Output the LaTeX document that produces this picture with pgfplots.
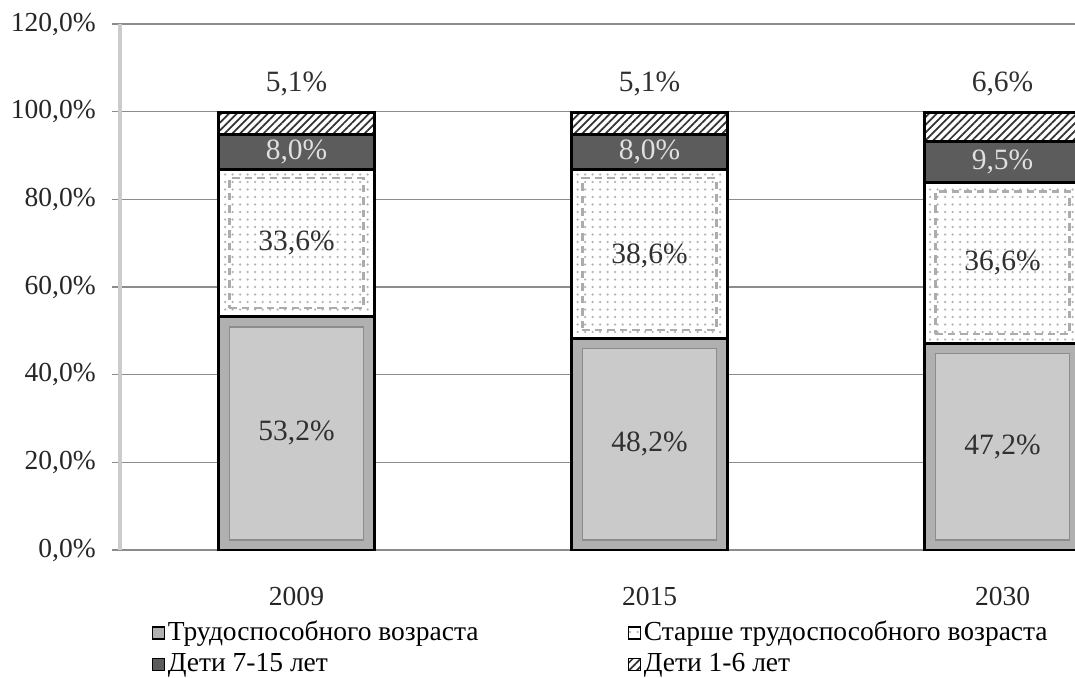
\documentclass[border=0pt]{standalone}
\usepackage{fontspec}
\setmainfont{Liberation Serif}
\usepackage{pgfplots}
\usepackage{pgfplotstable}
\pgfplotsset{compat=1.18}
\usetikzlibrary{patterns,patterns.meta}

\definecolor{barlight}{HTML}{CACACA}
\definecolor{barband}{HTML}{B0B0B0}
\definecolor{bardark}{HTML}{5C5C5C}
\definecolor{gridgray}{HTML}{8C8C8C}
\definecolor{labeltext}{HTML}{303030}

% shares, %
\pgfplotstableread{
x y
0 53.2
1 48.2
2 47.2
}\working
\pgfplotstableread{
x y
0 33.6
1 38.6
2 36.6
}\older
\pgfplotstableread{
x y
0 8.0
1 8.0
2 9.5
}\kidsold
\pgfplotstableread{
x y
0 5.1
1 5.1
2 6.6
}\kidsyoung

% inner frames of the bevelled bars: gap, inner light, gap, dashed frame
\pgfplotstableread{
x g1 inner g2 frame
0 2.3 48.6 4.3 29.6
1 2.3 43.6 4.3 34.6
2 2.3 42.6 4.3 32.6
}\bevel

% label positions (middle of each segment; top share above the bar)
\pgfplotstableread{
x p v
0 26.6 53.2
1 24.1 48.2
2 23.6 47.2
0 70.0 33.6
1 67.1 38.6
2 65.5 36.6
0 106.3 5.1
1 106.3 5.1
2 106.3 6.6
}\darklabels
\pgfplotstableread{
x p v
0 90.8 8.0
1 90.8 8.0
2 88.6 9.5
}\whitelabels

\pgfplotsset{
  boxlegend/.style={
    legend image code/.code={
      \draw[##1, line width=0.6pt, draw=black] (0pt,-2.4pt) rectangle (4.8pt,2.4pt);}
  },
  same frame/.style={
    at={(0,0)}, anchor=south west,
    scale only axis, width=423.6pt, height=210.4pt,
    xmin=-0.5, xmax=2.5, ymin=0, ymax=120,
  },
}
\newcommand{\lbl}{\fontsize{11}{13}\selectfont}
\newcommand{\vlbl}{\fontsize{11.8}{13}\selectfont}

\begin{document}
\begin{tikzpicture}
\begin{axis}[
  same frame,
  ybar stacked, bar width=0.44,
  axis x line*=bottom, axis y line*=left,
  axis line style={-},
  x axis line style={draw=gridgray, line width=0.7pt},
  y axis line style={draw=black!20, line width=1.4pt},
  xtick={0,1,2}, xticklabels={2009,2015,2030},
  xtick style={draw=none},
  extra x ticks={0.5,1.5}, extra x tick labels={},
  extra x tick style={grid=none, major tick length=3.4pt,
    tick style={draw=black!30, line width=0.8pt}},
  ytick={0,20,...,120},
  ytick style={draw=gridgray, line width=0.6pt},
  tick align=outside, major tick length=3.2pt,
  ymajorgrids, grid style={draw=gridgray, line width=0.6pt},
  /pgf/number format/assume math mode=true,
  yticklabel={\pgfmathprintnumber[fixed,fixed zerofill,precision=1,use comma]{\tick}\%},
  tick label style={font=\lbl, text=black!85},
  yticklabel style={xshift=-3pt},
  xticklabel style={yshift=-8pt},
  legend columns=2, legend cell align=left,
  legend style={draw=none, fill=none, at={(0.0225,-0.12)}, anchor=north west,
    font=\lbl, row sep=1.6pt, nodes={inner sep=1pt},
    /tikz/every even column/.append style={column sep=0pt}},
]
\addplot[boxlegend, fill=barband, draw=black, line width=1.2pt]
  table {\working};
\addlegendentry{\makebox[183pt][l]{Трудоспособного возраста}}
\addplot[boxlegend, fill=white, draw=black, line width=1.2pt,
  postaction={pattern=dots, pattern color=gray!60}]
  table {\older};
\addlegendentry{Старше трудоспособного возраста}
\addplot[boxlegend, fill=bardark, draw=black, line width=1.2pt]
  table {\kidsold};
\addlegendentry{\makebox[183pt][l]{Дети 7-15 лет}}
\addplot[boxlegend, fill=white, draw=black, line width=1.2pt,
  postaction={pattern={Lines[angle=45,distance=2.2pt,line width=0.7pt]}, pattern color=black!80}]
  table {\kidsyoung};
\addlegendentry{Дети 1-6 лет}
\end{axis}

% bevel: inner frames
\begin{axis}[same frame, hide axis, ybar stacked, bar width=0.38]
\addplot[draw=none, fill=none] table[y=g1] {\bevel};
\addplot[fill=barlight, draw=black!45, line width=0.5pt] table[y=inner] {\bevel};
\addplot[draw=none, fill=none] table[y=g2] {\bevel};
\addplot[fill=none, draw=gray!65, densely dashed, line width=0.9pt] table[y=frame] {\bevel};
\end{axis}

% value labels
\begin{axis}[
  same frame, hide axis, clip=false,
  /pgf/number format/assume math mode=true,
  nodes near coords={\pgfmathprintnumber[fixed,fixed zerofill,precision=1,use comma]{\pgfplotspointmeta}\%},
  nodes near coords align=center,
  every node near coord/.append style={font=\vlbl, anchor=center, inner sep=0pt},
]
\addplot[only marks, mark=*, mark size=0pt, mark options={draw=none, fill=none},
  point meta=\thisrow{v}, every node near coord/.append style={text=labeltext}]
  table[x=x, y=p] {\darklabels};
\addplot[only marks, mark=*, mark size=0pt, mark options={draw=none, fill=none},
  point meta=\thisrow{v}, every node near coord/.append style={text=white!88!black}]
  table[x=x, y=p] {\whitelabels};
\end{axis}
\pgfresetboundingbox
\path[use as bounding box] (-48pt,-50.8pt) rectangle (382pt,220pt);
\end{tikzpicture}
\end{document}
